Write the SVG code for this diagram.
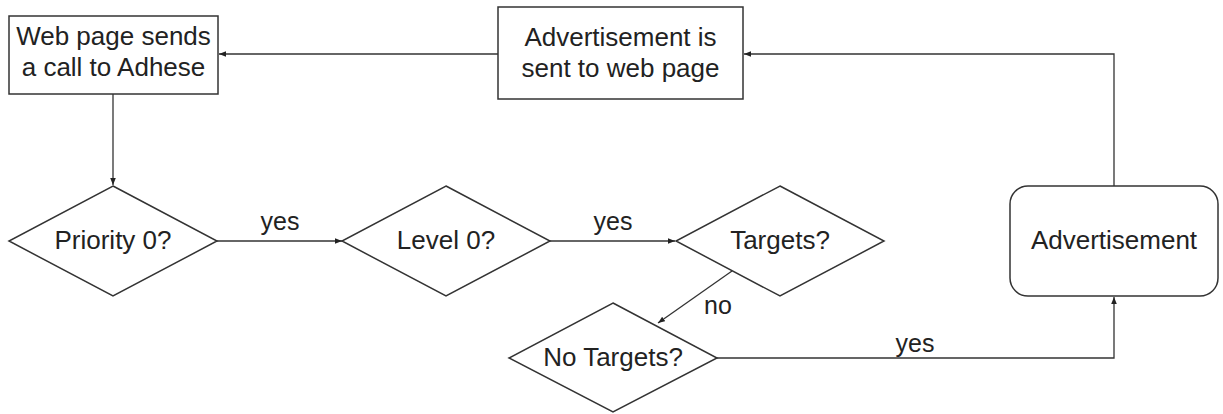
<svg xmlns="http://www.w3.org/2000/svg" width="1223" height="414" viewBox="0 0 1223 414">
<style>
.shape{fill:#fff;stroke:#333;stroke-width:1.5}
.edge{fill:none;stroke:#333;stroke-width:1.3}
text{font-family:"Liberation Sans",Arial,sans-serif;font-size:26px;fill:#222;text-anchor:middle}
.lbl{font-size:25px}
</style>
<defs>
<marker id="arr" viewBox="0 0 10 10" refX="10" refY="5" markerWidth="7" markerHeight="7" markerUnits="userSpaceOnUse" orient="auto">
<path d="M0,1 L10,5 L0,9 Z" fill="#222"/>
</marker>
</defs>
<rect width="1223" height="414" fill="#fff"/>
<g id="connectors">
<path class="edge" d="M113,94 L113,185" marker-end="url(#arr)"/>
<path class="edge" d="M217,241 L342,241" marker-end="url(#arr)"/>
<path class="edge" d="M550,241 L675,241" marker-end="url(#arr)"/>
<path class="edge" d="M732,271 L658,323" marker-end="url(#arr)"/>
<path class="edge" d="M717,358 L1114,358 L1114,297" marker-end="url(#arr)"/>
<path class="edge" d="M1114,186 L1114,54 L744,54" marker-end="url(#arr)"/>
<path class="edge" d="M498,54 L219,54" marker-end="url(#arr)"/>
<text class="lbl" x="280" y="230">yes</text>
<text class="lbl" x="613" y="230">yes</text>
<text class="lbl" x="718" y="314">no</text>
<text class="lbl" x="915" y="352">yes</text>
</g>
<g id="webpage">
<rect class="shape" x="9" y="16" width="209" height="78"/>
<text x="113.5" y="45">Web page sends</text>
<text x="113.5" y="76">a call to Adhese</text>
</g>
<g id="sent">
<rect class="shape" x="498" y="7" width="245" height="92"/>
<text x="620.5" y="46">Advertisement is</text>
<text x="620.5" y="77">sent to web page</text>
</g>
<g id="priority">
<polygon class="shape" points="113,186 217,241 113,296 9,241"/>
<text x="113" y="249">Priority 0?</text>
</g>
<g id="level">
<polygon class="shape" points="446,186 550,241 446,296 342,241"/>
<text x="446" y="249">Level 0?</text>
</g>
<g id="targets">
<polygon class="shape" points="780,186 884,241 780,296 676,241"/>
<text x="780" y="249">Targets?</text>
</g>
<g id="notargets">
<polygon class="shape" points="613,303 717,358 613,412 509,358"/>
<text x="613" y="366">No Targets?</text>
</g>
<g id="advertisement">
<rect class="shape" x="1010" y="186" width="208" height="110" rx="18" ry="18"/>
<text x="1114" y="249">Advertisement</text>
</g>
</svg>
